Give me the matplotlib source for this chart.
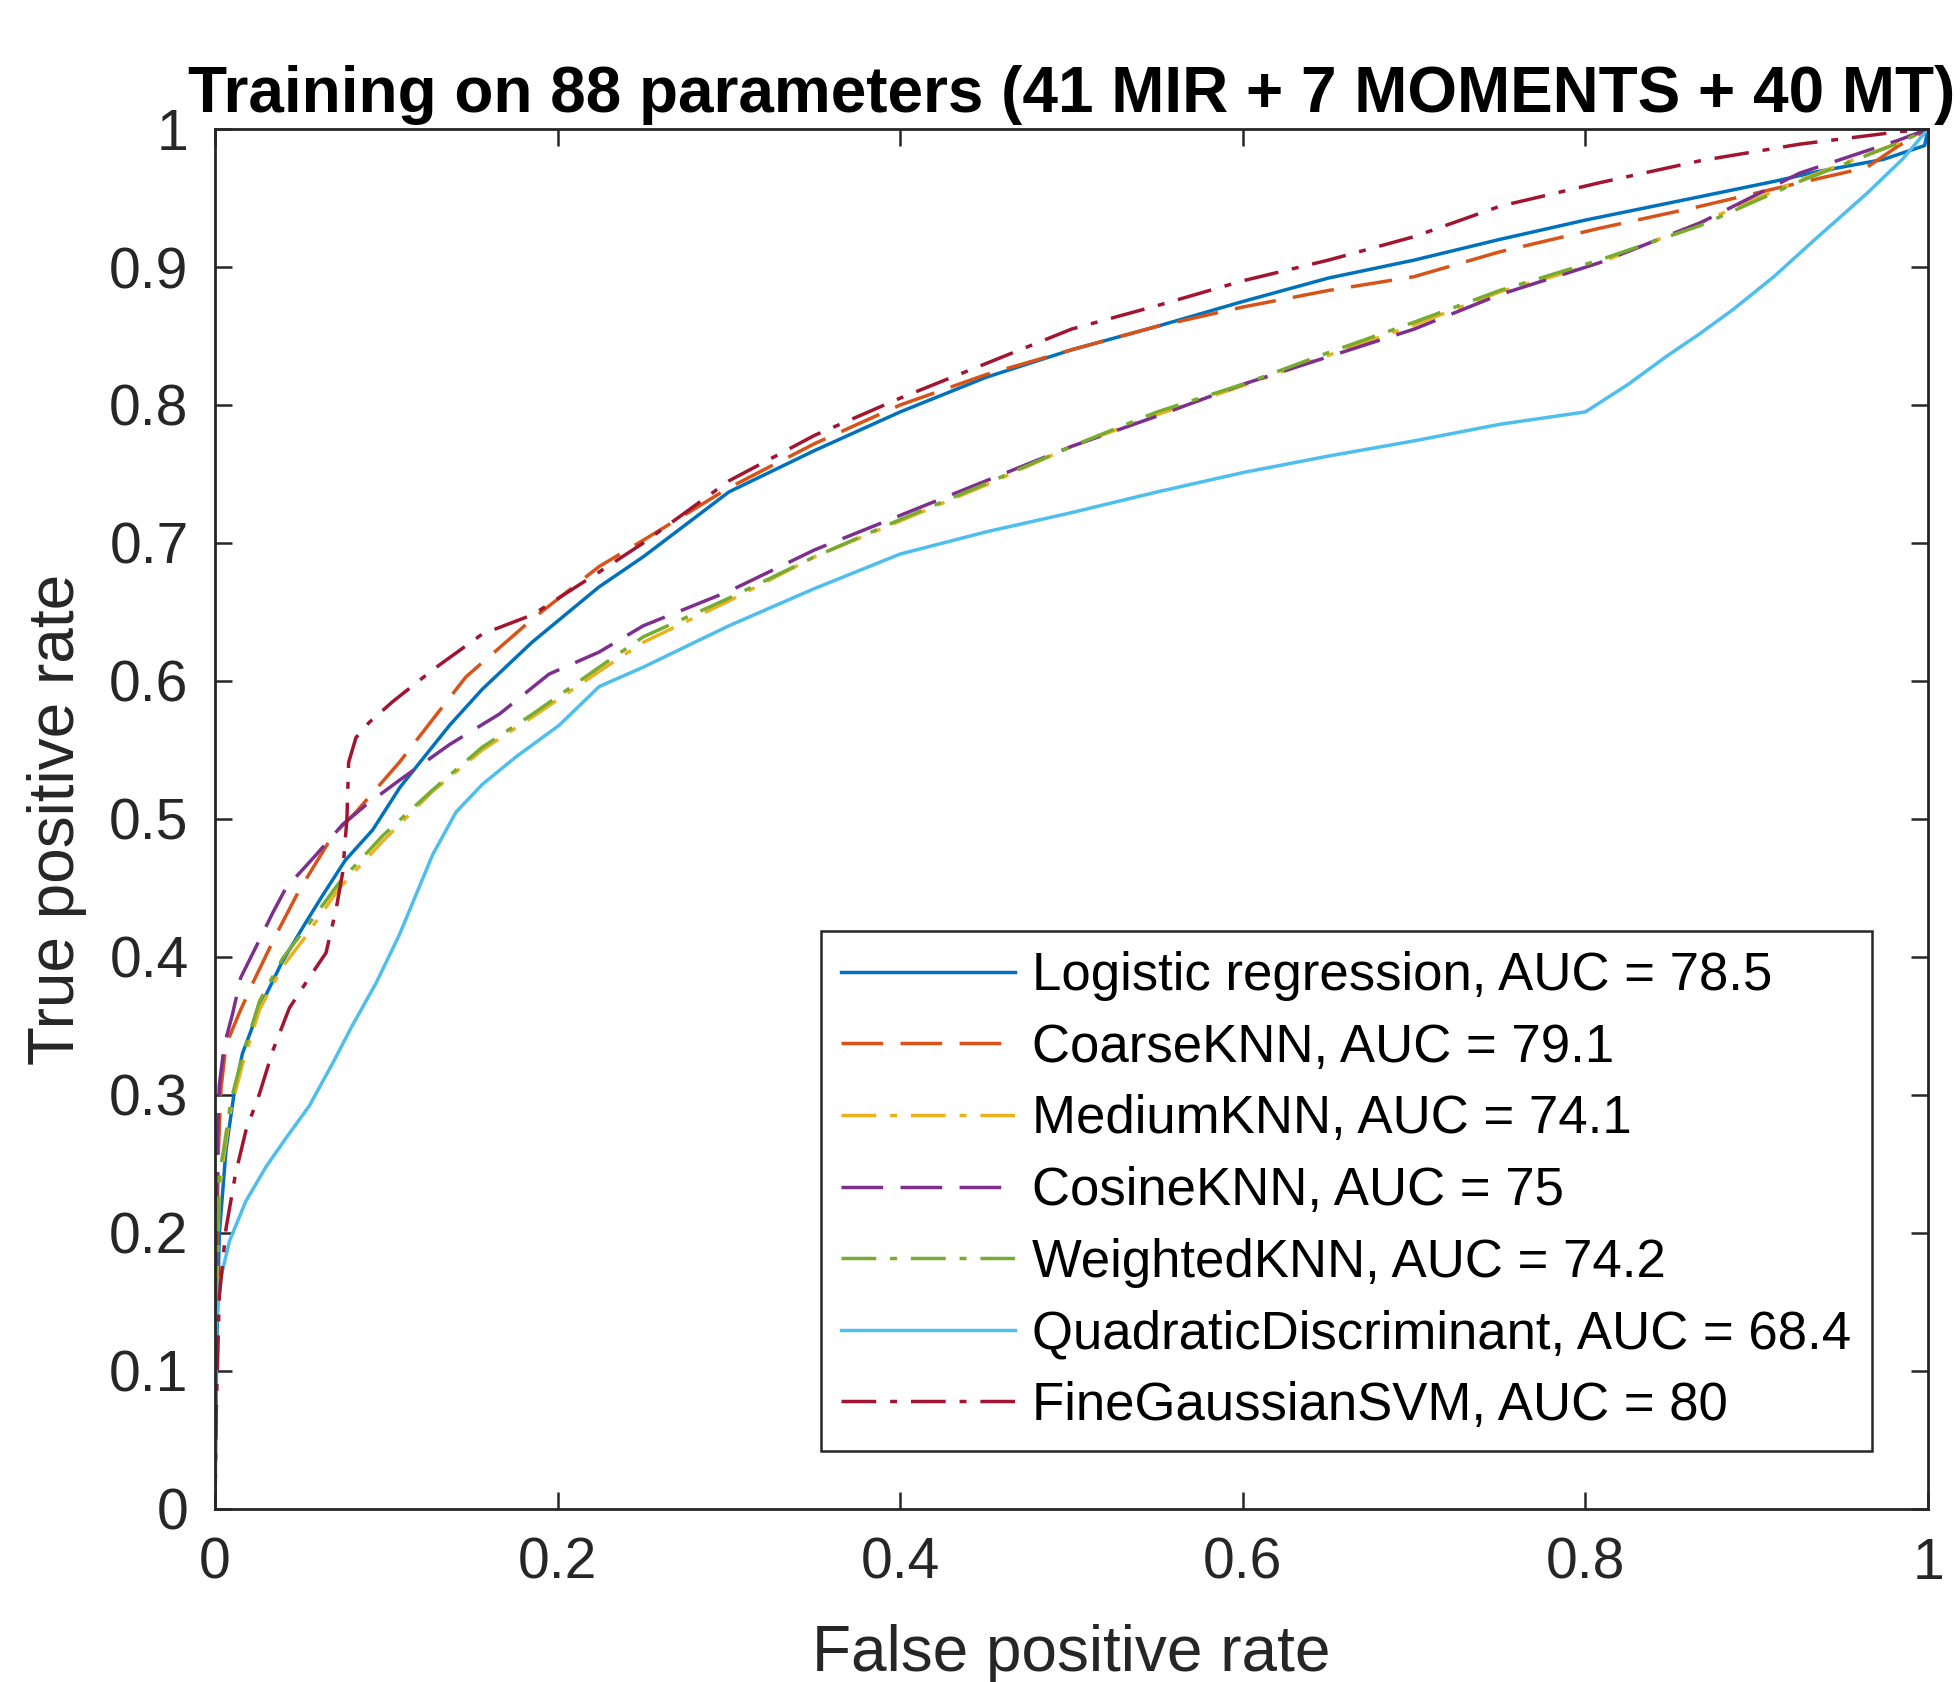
import numpy as np
import matplotlib
matplotlib.use('Agg')
import matplotlib.pyplot as plt

# Curvas ROC (FPR, TPR)
fpr_logistica = [0, 0.001, 0.0025, 0.0064, 0.011, 0.016, 0.026, 0.039, 0.053, 0.063, 0.076, 0.092,
                 0.108, 0.137, 0.156, 0.185, 0.224, 0.25, 0.3, 0.35, 0.4, 0.45, 0.5, 0.55, 0.6, 0.65,
                 0.7, 0.75, 0.8, 0.867, 0.91, 0.935, 0.974, 0.998, 1]
tpr_logistica = [0, 0.12, 0.199, 0.26, 0.30, 0.33, 0.363, 0.396, 0.425, 0.445, 0.47, 0.492,
                 0.523, 0.568, 0.594, 0.628, 0.668, 0.69, 0.737, 0.767, 0.795, 0.82, 0.84, 0.857, 0.875, 0.892,
                 0.905, 0.92, 0.934, 0.951, 0.962, 0.969, 0.978, 0.988, 1.0]

fpr_coarse = [0, 0.0005, 0.002, 0.0035, 0.0064, 0.014, 0.022, 0.0356, 0.049, 0.0687, 0.0823, 0.1076,
              0.127, 0.1465, 0.1854, 0.2243, 0.25, 0.3, 0.35, 0.4, 0.45, 0.5, 0.55, 0.6, 0.65, 0.7,
              0.75, 0.808, 0.867, 0.925, 0.964, 0.983, 1]
tpr_coarse = [0, 0.15, 0.26, 0.305, 0.336, 0.359, 0.381, 0.416, 0.448, 0.488, 0.505, 0.541,
              0.572, 0.603, 0.645, 0.683, 0.702, 0.74, 0.772, 0.80, 0.822, 0.84, 0.857, 0.871, 0.883, 0.893,
              0.911, 0.928, 0.944, 0.961, 0.972, 0.988, 1]

fpr_medium = [0, 0.0006, 0.0025, 0.005, 0.0093, 0.016, 0.026, 0.0395, 0.053, 0.0726, 0.098, 0.127,
              0.156, 0.1854, 0.2243, 0.25, 0.3, 0.35, 0.4, 0.45, 0.5, 0.55, 0.6, 0.65, 0.7, 0.75,
              0.808, 0.867, 0.925, 0.983, 1]
tpr_medium = [0, 0.14, 0.23, 0.255, 0.29, 0.322, 0.362, 0.393, 0.415, 0.45, 0.484, 0.52,
              0.55, 0.574, 0.607, 0.628, 0.658, 0.69, 0.716, 0.742, 0.77, 0.793, 0.814, 0.836, 0.858, 0.882,
              0.903, 0.932, 0.963, 0.99, 1]

fpr_cosine = [0, 0.0005, 0.0015, 0.0025, 0.0054, 0.0103, 0.015, 0.023, 0.0337, 0.0414, 0.059, 0.0745,
              0.088, 0.1076, 0.137, 0.166, 0.195, 0.2243, 0.25, 0.3, 0.35, 0.4, 0.45, 0.5, 0.55, 0.6,
              0.65, 0.7, 0.75, 0.808, 0.867, 0.925, 0.983, 1]
tpr_cosine = [0, 0.18, 0.27, 0.307, 0.336, 0.359, 0.385, 0.405, 0.432, 0.45, 0.474, 0.496,
              0.51, 0.528, 0.554, 0.576, 0.605, 0.621, 0.64, 0.665, 0.695, 0.72, 0.745, 0.77, 0.792, 0.815,
              0.835, 0.855, 0.88, 0.903, 0.932, 0.968, 0.992, 1]

fpr_weighted = [0, 0.0006, 0.0025, 0.005, 0.0093, 0.016, 0.026, 0.0395, 0.053, 0.0726, 0.098, 0.127,
                0.156, 0.1854, 0.2243, 0.25, 0.3, 0.35, 0.4, 0.45, 0.5, 0.55, 0.6, 0.65, 0.7, 0.75,
                0.808, 0.867, 0.925, 0.983, 1]
tpr_weighted = [0, 0.154, 0.243, 0.26, 0.296, 0.328, 0.368, 0.399, 0.421, 0.454, 0.488, 0.521,
                0.552, 0.576, 0.61, 0.632, 0.66, 0.69, 0.717, 0.743, 0.77, 0.795, 0.815, 0.838, 0.86, 0.883,
                0.905, 0.93, 0.962, 0.99, 1]

fpr_quadratic = [0, 0.0006, 0.0035, 0.0084, 0.018, 0.0298, 0.041, 0.055, 0.0687, 0.080, 0.094, 0.1076,
                 0.127, 0.1407, 0.156, 0.1757, 0.201, 0.2243, 0.25, 0.3, 0.35, 0.4, 0.45, 0.5, 0.55, 0.6,
                 0.65, 0.7, 0.75, 0.8, 0.825, 0.847, 0.866, 0.886, 0.91, 0.934, 0.964, 0.985, 1]
tpr_quadratic = [0, 0.132, 0.168, 0.194, 0.223, 0.248, 0.268, 0.292, 0.323, 0.35, 0.381, 0.416,
                 0.474, 0.505, 0.525, 0.545, 0.568, 0.596, 0.61, 0.64, 0.667, 0.692, 0.708, 0.722, 0.737, 0.751,
                 0.763, 0.774, 0.786, 0.795, 0.815, 0.835, 0.851, 0.869, 0.893, 0.92, 0.953, 0.978, 1]

fpr_svm = [0, 0.0006, 0.0025, 0.0064, 0.012, 0.018, 0.026, 0.0337, 0.0434, 0.055, 0.0648, 0.0706,
           0.0745, 0.077, 0.078, 0.0823, 0.09, 0.1037, 0.127, 0.156, 0.1854, 0.2243, 0.25, 0.3, 0.35,
           0.4, 0.45, 0.5, 0.55, 0.6, 0.65, 0.7, 0.75, 0.808, 0.867, 0.925, 0.983, 1]
tpr_svm = [0, 0.065, 0.154, 0.203, 0.243, 0.274, 0.301, 0.332, 0.363, 0.385, 0.403, 0.434,
           0.461, 0.50, 0.541, 0.559, 0.57, 0.585, 0.608, 0.634, 0.648, 0.679, 0.70, 0.745, 0.778,
           0.805, 0.83, 0.855, 0.872, 0.89, 0.905, 0.922, 0.944, 0.961, 0.977, 0.989, 0.998, 1]

etiquetas = ['Logistic regression, AUC = 78.5', 'CoarseKNN, AUC = 79.1', 'MediumKNN, AUC = 74.1',
             'CosineKNN, AUC = 75', 'WeightedKNN, AUC = 74.2',
             'QuadraticDiscriminant, AUC = 68.4', 'FineGaussianSVM, AUC = 80']

plt.rcParams['font.family'] = ['Liberation Sans', 'DejaVu Sans']

fig = plt.figure(figsize=(19.6, 16.82), dpi=100)
ax = fig.add_axes([0.1097, 0.1029, 0.874, 0.8204])

# Estilos tipo MATLAB
guion = (12, 5)
guion_punto = (10, 4, 2, 4)
curvas = [
    (fpr_logistica, tpr_logistica, '#0072BD', None),
    (fpr_coarse, tpr_coarse, '#D95319', guion),
    (fpr_medium, tpr_medium, '#EDB120', guion_punto),
    (fpr_cosine, tpr_cosine, '#7E2F8E', guion),
    (fpr_weighted, tpr_weighted, '#77AC30', guion_punto),
    (fpr_quadratic, tpr_quadratic, '#4DBEEE', None),
    (fpr_svm, tpr_svm, '#A2142F', guion_punto),
]
for (x, y, color, dashes), etiqueta in zip(curvas, etiquetas):
    linea, = ax.plot(x, y, color=color, lw=2.5, label=etiqueta)
    if dashes is not None:
        linea.set_dashes(dashes)

ax.set_xlim(0, 1)
ax.set_ylim(0, 1)
ax.set_xticks(np.arange(0, 1.01, 0.2))
ax.set_yticks(np.arange(0, 1.01, 0.1))
ax.set_xticklabels(['0', '0.2', '0.4', '0.6', '0.8', '1'])
ax.set_yticklabels(['0', '0.1', '0.2', '0.3', '0.4', '0.5', '0.6', '0.7', '0.8', '0.9', '1'])

for lado in ax.spines.values():
    lado.set_linewidth(2.0)
    lado.set_color('#262626')
ax.tick_params(direction='in', length=12, width=1.8, colors='#262626', labelsize=41,
               top=True, right=True)
ax.tick_params(axis='x', pad=20)
ax.tick_params(axis='y', pad=19)

ax.set_xlabel('False positive rate', fontsize=46, color='#262626', labelpad=24)
ax.set_ylabel('True positive rate', fontsize=46, color='#262626', labelpad=16)
ax.set_title('Training on 88 parameters (41 MIR + 7 MOMENTS + 40 MT)', fontsize=46,
             fontweight='bold', pad=12)

leyenda = ax.legend(loc='lower right', bbox_to_anchor=(0.967, 0.042), fontsize=38,
                    handlelength=3.3, handletextpad=0.32, labelspacing=0.41,
                    borderpad=0.38, borderaxespad=0, fancybox=False, framealpha=1)
leyenda.get_frame().set_edgecolor('#262626')
leyenda.get_frame().set_linewidth(1.8)

fig.savefig('out.png', dpi=100)
